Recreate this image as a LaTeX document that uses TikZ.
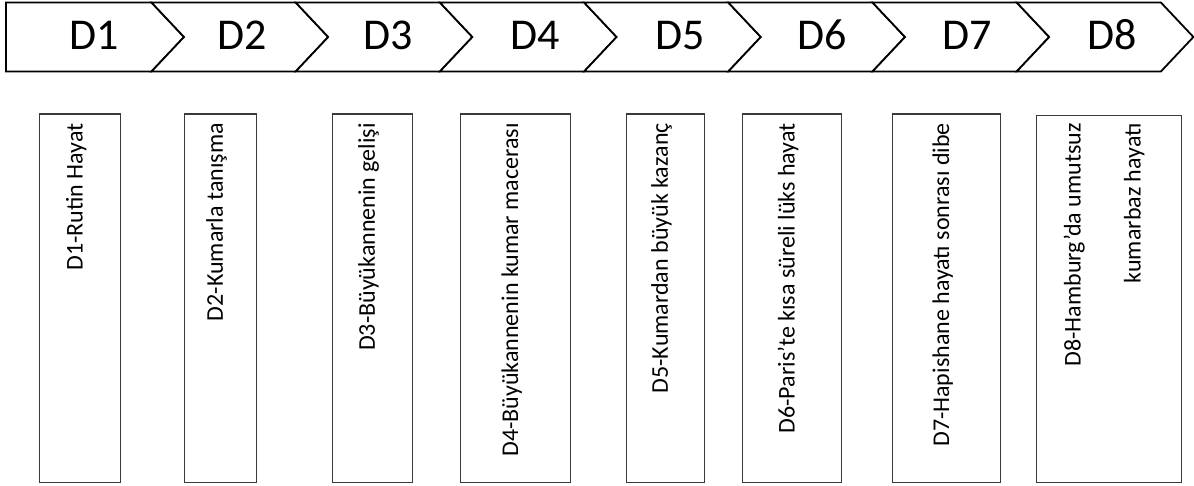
\documentclass[tikz,border=0pt]{standalone}
\usepackage{fontspec}
\setmainfont{Carlito}
\usetikzlibrary{positioning}
\definecolor{ink}{HTML}{000000}
\definecolor{frameB}{HTML}{3A3A3A}
\tikzset{
  chev/.style={draw=ink, line width=1.8pt, line join=miter, fill=white},
  chevlabel/.style={font=\fontsize{44}{48}\selectfont, text=ink, inner sep=0pt, anchor=base},
  storybox/.style={draw=frameB, line width=1.3pt, fill=white, inner sep=0pt, anchor=north west},
  storytext/.style={font=\fontsize{24}{29}\selectfont, text=ink, rotate=90, anchor=east, inner sep=0pt, align=right}
}

\begin{document}
\begin{tikzpicture}[x=1pt,y=1pt]
\useasboundingbox (0,0) rectangle (1194,485);

% chevron bar
\draw[chev] (6,482.5) -- (151.5,482.5) -- (184,448) -- (151.5,413.5) -- (6,413.5) -- cycle;
\draw[chev] (151.5,482.5) -- (295.7,482.5) -- (328.2,448) -- (295.7,413.5) -- (151.5,413.5) -- (184,448) -- cycle;
\draw[chev] (295.7,482.5) -- (439.9,482.5) -- (472.4,448) -- (439.9,413.5) -- (295.7,413.5) -- (328.2,448) -- cycle;
\draw[chev] (439.9,482.5) -- (584.1,482.5) -- (616.6,448) -- (584.1,413.5) -- (439.9,413.5) -- (472.4,448) -- cycle;
\draw[chev] (584.1,482.5) -- (728.3,482.5) -- (760.8,448) -- (728.3,413.5) -- (584.1,413.5) -- (616.6,448) -- cycle;
\draw[chev] (728.3,482.5) -- (872.5,482.5) -- (905,448) -- (872.5,413.5) -- (728.3,413.5) -- (760.8,448) -- cycle;
\draw[chev] (872.5,482.5) -- (1016.7,482.5) -- (1049.2,448) -- (1016.7,413.5) -- (872.5,413.5) -- (905,448) -- cycle;
\draw[chev] (1016.7,482.5) -- (1160.9,482.5) -- (1193.4,448) -- (1160.9,413.5) -- (1016.7,413.5) -- (1049.2,448) -- cycle;

\node[chevlabel] (c1) at (94,435) {D1};
\node[chevlabel] (c2) at (242,435) {D2};
\node[chevlabel] (c3) at (388,435) {D3};
\node[chevlabel] (c4) at (535,435) {D4};
\node[chevlabel] (c5) at (680,435) {D5};
\node[chevlabel] (c6) at (822,435) {D6};
\node[chevlabel] (c7) at (967,435) {D7};
\node[chevlabel] (c8) at (1112,435) {D8};

% episode boxes
\node[storybox, minimum width=81pt, minimum height=368pt] (b1) at (39,371.5) {};
\node[storybox, minimum width=72pt, minimum height=368pt] (b2) at (184,371.5) {};
\node[storybox, minimum width=80pt, minimum height=368pt] (b3) at (332,371.5) {};
\node[storybox, minimum width=110pt, minimum height=368pt] (b4) at (460,371.5) {};
\node[storybox, minimum width=78pt, minimum height=368pt] (b5) at (626,371.5) {};
\node[storybox, minimum width=99pt, minimum height=368pt] (b6) at (742,371.5) {};
\node[storybox, minimum width=108pt, minimum height=368pt] (b7) at (892,371.5) {};
\node[storybox, minimum width=145pt, minimum height=366.5pt] (b8) at (1036,370) {};

\node[storytext] (t1) at ([xshift=-4pt,yshift=-9.5pt]b1.north) {D1-Rutin Hayat};
\node[storytext] (t2) at ([xshift=-4pt,yshift=-9.5pt]b2.north) {D2-Kumarla tanışma};
\node[storytext] (t3) at ([xshift=-4pt,yshift=-9.5pt]b3.north) {D3-Büyükannenin gelişi};
\node[storytext] (t4) at ([xshift=-4pt,yshift=-9.5pt]b4.north) {D4-Büyükannenin kumar macerası};
\node[storytext] (t5) at ([xshift=-4pt,yshift=-9.5pt]b5.north) {D5-Kumardan büyük kazanç};
\node[storytext] (t6) at ([xshift=-4pt,yshift=-9.5pt]b6.north) {D6-Paris’te kısa süreli lüks hayat};
\node[storytext] (t7) at ([xshift=-4pt,yshift=-9.5pt]b7.north) {D7-Hapishane hayatı sonrası dibe};
\node[storytext] (t8) at ([xshift=-5pt,yshift=-8pt]b8.north) {D8-Hamburg’da umutsuz\\[31pt]kumarbaz hayatı};

\end{tikzpicture}
\end{document}
